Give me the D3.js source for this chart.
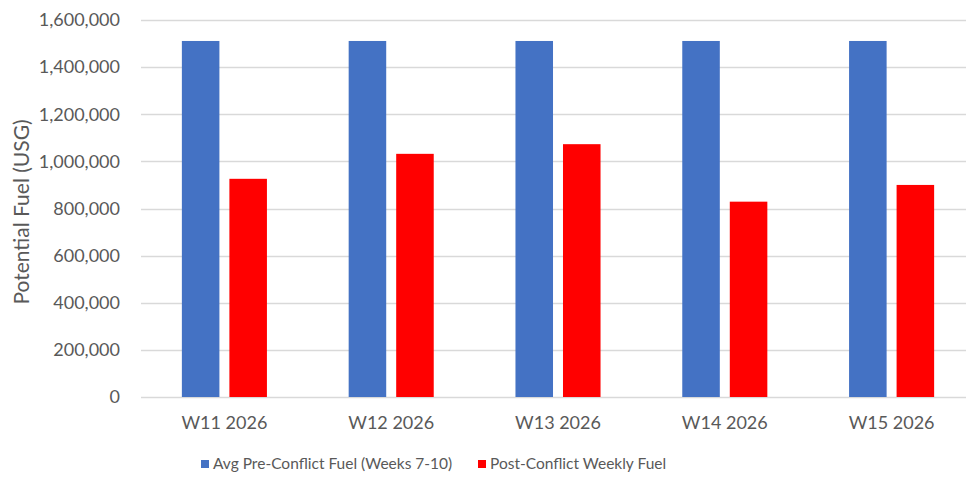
<!DOCTYPE html>
<html>
<head>
<meta charset="utf-8">
<script src="https://cdn.jsdelivr.net/npm/d3@7"></script>
<style>
  body { margin: 0; background: #fff; }
  svg { display: block; font-family: Lato, "Open Sans", sans-serif; }
</style>
</head>
<body>
<div id="chart"></div>
<script>
// chart data
const weeks = ['W11 2026', 'W12 2026', 'W13 2026', 'W14 2026', 'W15 2026'];
const seriesNames = ['Avg Pre-Conflict Fuel (Weeks 7-10)', 'Post-Conflict Weekly Fuel'];
const preConflict = [1511000, 1511000, 1511000, 1511000, 1511000];
const postConflict = [926000, 1032000, 1073000, 829000, 900000];
const yTicks = [0, 200000, 400000, 600000, 800000, 1000000, 1200000, 1400000, 1600000];
const colors = ['#4472C4', '#FF0000'];

const width = 966, height = 479;
const margin = {top: 20, right: -9, bottom: 82, left: 141};
const innerW = width - margin.left - margin.right,
      innerH = height - margin.top - margin.bottom;

let svg = d3.select('#chart').append('svg')
    .attr('width', width)
    .attr('height', height);

let g = svg.append('g')
    .attr('transform', 'translate(' + margin.left + ',' + margin.top + ')');

let x0 = d3.scaleBand()
    .domain(weeks)
    .range([0, innerW])
    .paddingInner(0.49)
    .paddingOuter(0.245);

let x1 = d3.scaleBand()
    .domain([0, 1])
    .range([0, x0.bandwidth()])
    .paddingInner(0.21);

let y = d3.scaleLinear()
    .domain([0, 1600000])
    .range([innerH, 0]);

// gridlines
g.append('g')
    .selectAll('line')
    .data(yTicks)
    .enter()
    .append('line')
        .attr('x1', 0)
        .attr('x2', innerW)
        .attr('y1', d => Math.round(y(d)) + 0.5)
        .attr('y2', d => Math.round(y(d)) + 0.5)
        .attr('stroke', '#d9d9d9')
        .attr('stroke-width', 1.5);

// y tick labels
g.append('g')
    .selectAll('text')
    .data(yTicks)
    .enter()
    .append('text')
        .attr('x', -21)
        .attr('y', d => y(d))
        .attr('dy', '0.35em')
        .attr('text-anchor', 'end')
        .attr('fill', '#595959')
        .style('font-size', '18px')
        .text(d => d3.format(',')(d));

// bars
let rows = weeks.map((w, i) => ({week: w, values: [preConflict[i], postConflict[i]]}));

let groups = g.append('g')
    .selectAll('g')
    .data(rows)
    .enter()
    .append('g')
        .attr('transform', d => 'translate(' + x0(d.week) + ',0)');

groups.selectAll('rect')
    .data(d => d.values.map((v, k) => ({k: k, v: v})))
    .enter()
    .append('rect')
        .attr('x', d => x1(d.k))
        .attr('y', d => y(d.v))
        .attr('width', x1.bandwidth())
        .attr('height', d => innerH - y(d.v))
        .attr('fill', d => colors[d.k]);

// x labels
g.append('g')
    .selectAll('text')
    .data(weeks)
    .enter()
    .append('text')
        .attr('x', d => x0(d) + x0.bandwidth() / 2)
        .attr('y', innerH + 32)
        .attr('text-anchor', 'middle')
        .attr('fill', '#595959')
        .style('font-size', '18px')
        .text(d => d);

// y axis title
svg.append('text')
    .attr('text-anchor', 'middle')
    .attr('transform', 'translate(29,212)rotate(-90)')
    .attr('fill', '#595959')
    .style('font-size', '21px')
    .text('Potential Fuel (USG)');

// legend
let legendX = [201, 478];
let legend = svg.append('g')
    .selectAll('g')
    .data(seriesNames)
    .enter()
    .append('g')
        .attr('transform', (d, i) => 'translate(' + legendX[i] + ',460)');

legend.append('rect')
    .attr('width', 8)
    .attr('height', 8)
    .attr('fill', (d, i) => colors[i]);

legend.append('text')
    .attr('x', 12)
    .attr('y', 4)
    .attr('dy', '0.35em')
    .attr('fill', '#595959')
    .style('font-size', '15.5px')
    .text(d => d);
</script>
</body>
</html>
